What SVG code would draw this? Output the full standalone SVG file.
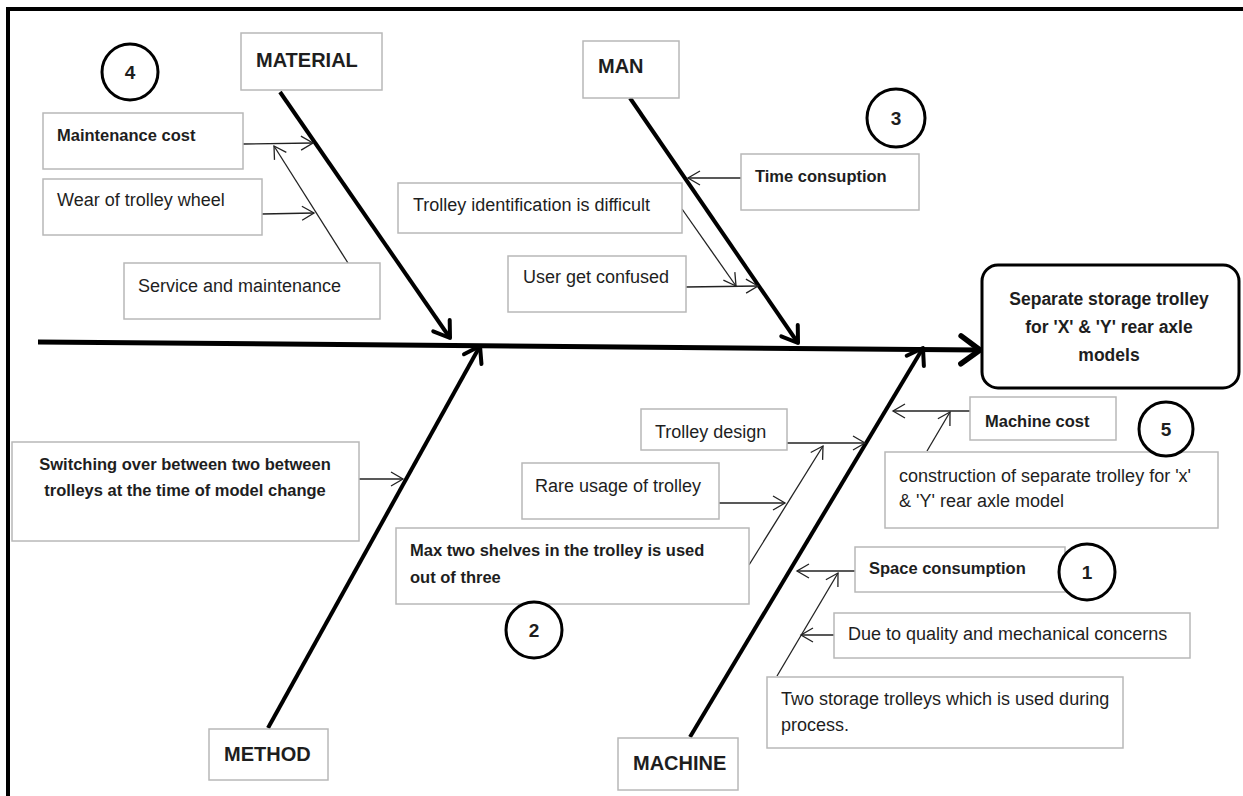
<svg xmlns="http://www.w3.org/2000/svg" width="1243" height="796" viewBox="0 0 1243 796">
<defs>
<style>
.box{fill:#fff;stroke:#b8b8b8;stroke-width:1.5}
.t{font-family:"Liberation Sans",Arial,sans-serif;font-size:18px;fill:#1e1e1e}
.b{font-weight:bold;font-size:16.5px}
.cap{font-weight:bold;font-size:20px}
.res{font-weight:bold;font-size:17.5px;text-anchor:middle}
.circ{fill:#fff;stroke:#000;stroke-width:3}
.num{font-weight:bold;font-size:19px;text-anchor:middle}
.thin{stroke:#222;stroke-width:1.3;fill:none;marker-end:url(#a)}
.bone{stroke:#000;stroke-width:4;fill:none;marker-end:url(#A)}
</style>
<marker id="a" viewBox="-16 -10 20 20" markerWidth="20" markerHeight="20" refX="0" refY="0" orient="auto" markerUnits="userSpaceOnUse">
<path d="M-12,-7 L0,0 L-12,7" fill="none" stroke="#222" stroke-width="1.3"/>
</marker>
<marker id="A" viewBox="-22 -16 30 32" markerWidth="30" markerHeight="32" refX="0" refY="0" orient="auto" markerUnits="userSpaceOnUse">
<path d="M-15,-10 L0,0 L-15,10" fill="none" stroke="#000" stroke-width="4" stroke-linejoin="round" stroke-linecap="round"/>
</marker>
<marker id="S" viewBox="-26 -20 34 40" markerWidth="34" markerHeight="40" refX="0" refY="0" orient="auto" markerUnits="userSpaceOnUse">
<path d="M-19,-14 L0,0 L-19,14" fill="none" stroke="#000" stroke-width="5.5" stroke-linejoin="round" stroke-linecap="round"/>
</marker>
</defs>
<rect x="0" y="0" width="1243" height="796" fill="#fff"/>
<g id="frame">
<line x1="6" y1="9" x2="1243" y2="9" stroke="#000" stroke-width="4"/>
<line x1="8" y1="7" x2="8" y2="796" stroke="#000" stroke-width="4"/>
</g>

<g id="connectors">
<line x1="38" y1="342" x2="980" y2="350" stroke="#000" stroke-width="5" marker-end="url(#S)"/>
<line class="bone" x1="280" y1="92" x2="450" y2="338"/>
<line class="bone" x1="630" y1="98" x2="798" y2="343"/>
<line class="bone" x1="268" y1="728" x2="480" y2="346"/>
<line class="bone" x1="690" y1="737" x2="923" y2="348"/>
<line class="thin" x1="243" y1="144" x2="313" y2="143"/>
<line class="thin" x1="262" y1="214" x2="314" y2="213"/>
<line class="thin" x1="348" y1="263" x2="274" y2="146"/>
<line class="thin" x1="741" y1="178" x2="688" y2="178"/>
<line class="thin" x1="682" y1="209" x2="736" y2="286"/>
<line class="thin" x1="686" y1="287" x2="758" y2="286"/>
<line class="thin" x1="359" y1="479" x2="403" y2="479"/>
<line class="thin" x1="787" y1="443" x2="865" y2="443"/>
<line class="thin" x1="719" y1="503" x2="785" y2="503"/>
<line class="thin" x1="749" y1="565" x2="823" y2="446"/>
<line class="thin" x1="970" y1="411" x2="893" y2="411"/>
<line class="thin" x1="927" y1="451" x2="950" y2="412"/>
<line class="thin" x1="855" y1="571" x2="797" y2="571"/>
<line class="thin" x1="834" y1="635" x2="801" y2="635"/>
<line class="thin" x1="777" y1="676" x2="838" y2="573"/>
</g>

<g id="material">
<rect class="box" x="241" y="33" width="141" height="57"/>
<text class="t cap" x="256" y="66.5">MATERIAL</text>
</g>
<g id="man">
<rect class="box" x="583" y="41" width="96" height="57"/>
<text class="t cap" x="598" y="73">MAN</text>
</g>
<g id="method">
<rect class="box" x="209" y="729" width="119" height="51"/>
<text class="t cap" x="224" y="761">METHOD</text>
</g>
<g id="machine">
<rect class="box" x="618" y="738" width="120" height="52"/>
<text class="t cap" x="633" y="770">MACHINE</text>
</g>
<g id="result">
<rect x="982" y="265" width="257" height="123" rx="16" fill="#fff" stroke="#000" stroke-width="3"/>
<text class="t res" x="1109" y="305">Separate storage trolley</text>
<text class="t res" x="1109" y="333">for 'X' &amp; 'Y' rear axle</text>
<text class="t res" x="1109" y="361">models</text>
</g>

<g id="maintenance-cost">
<rect class="box" x="43" y="113" width="200" height="56"/>
<text class="t b" x="57" y="141">Maintenance  cost</text>
</g>
<g id="wear">
<rect class="box" x="43" y="179" width="219" height="56"/>
<text class="t" x="57" y="206">Wear of trolley wheel</text>
</g>
<g id="service">
<rect class="box" x="124" y="263" width="256" height="56"/>
<text class="t" x="138" y="292">Service and maintenance</text>
</g>
<g id="time">
<rect class="box" x="741" y="154" width="178" height="56"/>
<text class="t b" x="755" y="182">Time consuption</text>
</g>
<g id="trolley-id">
<rect class="box" x="398" y="183" width="284" height="50"/>
<text class="t" x="413" y="211">Trolley identification  is difficult</text>
</g>
<g id="user">
<rect class="box" x="508" y="256" width="178" height="56"/>
<text class="t" x="523" y="283">User get confused</text>
</g>
<g id="switching">
<rect class="box" x="12" y="442" width="347" height="99"/>
<text class="t b" x="185" y="470" text-anchor="middle">Switching over between two between</text>
<text class="t b" x="185" y="496" text-anchor="middle">trolleys at  the time of model change</text>
</g>
<g id="trolley-design">
<rect class="box" x="641" y="409" width="146" height="41"/>
<text class="t" x="655" y="438">Trolley design</text>
</g>
<g id="rare">
<rect class="box" x="522" y="463" width="197" height="56"/>
<text class="t" x="535" y="492">Rare usage of trolley</text>
</g>
<g id="max-two">
<rect class="box" x="396" y="528" width="353" height="76"/>
<text class="t b" x="410" y="556">Max two shelves in the trolley is used</text>
<text class="t b" x="410" y="583">out of three</text>
</g>
<g id="machine-cost">
<rect class="box" x="970" y="397" width="146" height="43"/>
<text class="t b" x="985" y="427">Machine  cost</text>
</g>
<g id="construction">
<rect class="box" x="885" y="452" width="333" height="76"/>
<text class="t" x="899" y="482">construction of separate trolley for 'x'</text>
<text class="t" x="899" y="507">&amp; 'Y' rear axle model</text>
</g>
<g id="space">
<rect class="box" x="855" y="547" width="210" height="45"/>
<text class="t b" x="869" y="574">Space consumption</text>
</g>
<g id="due">
<rect class="box" x="834" y="613" width="356" height="45"/>
<text class="t" x="848" y="640">Due to quality and mechanical concerns</text>
</g>
<g id="two-storage">
<rect class="box" x="767" y="677" width="356" height="71"/>
<text class="t" x="781" y="705">Two storage trolleys which is used during</text>
<text class="t" x="781" y="731">process.</text>
</g>

<g id="badge-4"><circle class="circ" cx="130" cy="72" r="28"/><text class="t num" x="130" y="79">4</text></g>
<g id="badge-3"><circle class="circ" cx="896" cy="118" r="29"/><text class="t num" x="896" y="125">3</text></g>
<g id="badge-2"><circle class="circ" cx="534" cy="630" r="28"/><text class="t num" x="534" y="637">2</text></g>
<g id="badge-5"><circle class="circ" cx="1166" cy="429" r="27"/><text class="t num" x="1166" y="436">5</text></g>
<g id="badge-1"><circle class="circ" cx="1087" cy="572" r="28"/><text class="t num" x="1087" y="579">1</text></g>
</svg>
